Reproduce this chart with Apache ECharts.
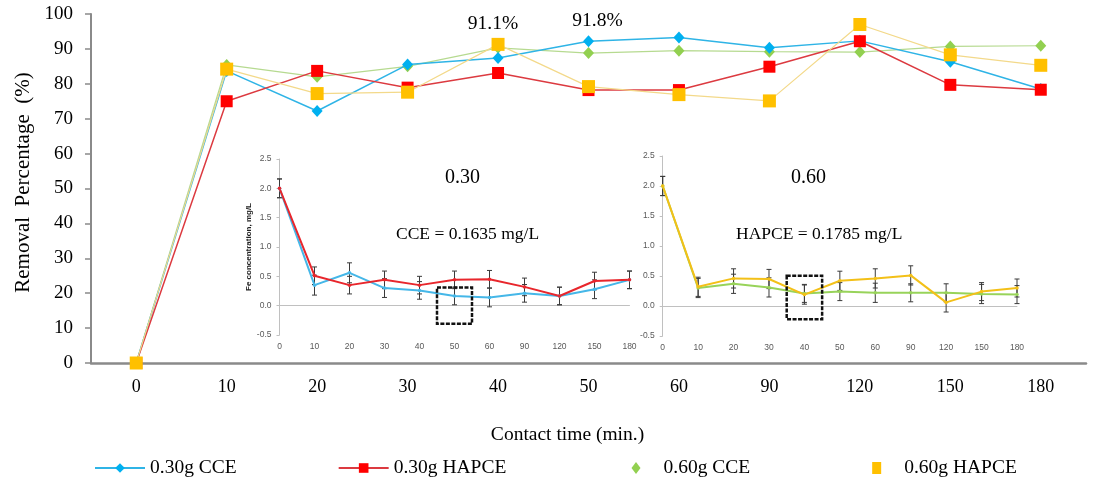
<!DOCTYPE html>
<html>
<head>
<meta charset="utf-8">
<script src="https://cdn.jsdelivr.net/npm/echarts@6/dist/echarts.min.js"></script>
<style>
  html, body { margin: 0; padding: 0; background: #fff; }
  #chart { width: 1098px; height: 485px; }
</style>
</head>
<body>
<div id="chart"></div>
<script>
// contact time categories (min.)
const times = ['0', '10', '20', '30', '40', '50', '60', '90', '120', '150', '180'];

// removal percentage, main chart
const cce030 = [0, 83.7, 72.2, 85.5, 87.4, 92.2, 93.3, 90.3, 92.3, 86.3, 78.5];
const hapce030 = [0, 75.0, 83.7, 78.9, 83.1, 78.2, 78.2, 84.9, 92.2, 79.7, 78.3];
const cce060 = [0, 85.4, 82.0, 85.0, 90.3, 88.8, 89.5, 89.2, 89.1, 90.7, 90.9];
const hapce060 = [0, 84.2, 77.2, 77.6, 91.3, 79.2, 76.9, 75.1, 97.0, 88.3, 85.3];

// Fe concentration (mg/L), insets
const fe030cce = [2.0, 0.35, 0.56, 0.30, 0.26, 0.165, 0.14, 0.21, 0.165, 0.28, 0.44];
const fe030hapce = [2.0, 0.51, 0.35, 0.44, 0.35, 0.44, 0.45, 0.32, 0.165, 0.42, 0.44];
const fe060cce = [2.0, 0.30, 0.37, 0.31, 0.21, 0.24, 0.22, 0.22, 0.22, 0.20, 0.19];
const fe060hapce = [2.0, 0.32, 0.46, 0.45, 0.19, 0.42, 0.46, 0.51, 0.06, 0.24, 0.30];
const err030cce = [0.16, 0.17, 0.17, 0.16, 0.15, 0.15, 0.16, 0.15, 0.15, 0.16, 0.15];
const err030hapce = [0.16, 0.15, 0.15, 0.15, 0.15, 0.15, 0.15, 0.15, 0.15, 0.15, 0.15];
const err060cce = [0.16, 0.16, 0.16, 0.16, 0.15, 0.15, 0.16, 0.15, 0.15, 0.16, 0.15];
const err060hapce = [0.16, 0.16, 0.16, 0.16, 0.16, 0.16, 0.16, 0.16, 0.16, 0.15, 0.15];

// highlighted boxes in insets: [category index, low, high]
const box030 = [[5, -0.31, 0.31]];
const box060 = [[4, -0.22, 0.505]];

const yTicks = [0, 100, 10];
const feTicks = [-0.5, 2.5, 0.5];

const serif = 'Liberation Serif';
const sans = 'Liberation Sans';

const chart = echarts.init(document.getElementById('chart'));

const withLabel = (arr, idx, text, dx) => arr.map((v, i) => i === idx ? {
  value: v,
  label: { show: true, position: 'top', distance: 4, offset: [dx, 0], formatter: text, color: '#000', fontFamily: serif, fontSize: 19.5 }
} : v);

const errData = (vals, errs) => vals.map((v, i) => [i, v - errs[i], v + errs[i]]);

const errSeries = (idx, vals, errs) => ({
  type: 'custom',
  xAxisIndex: idx, yAxisIndex: idx,
  z: 3,
  silent: true,
  data: errData(vals, errs),
  encode: { x: 0, y: [1, 2] },
  renderItem: (params, api) => {
    const i = api.value(0);
    const lo = api.coord([i, api.value(1)]);
    const hi = api.coord([i, api.value(2)]);
    const st = { stroke: '#3a3a3a', lineWidth: 1 };
    return {
      type: 'group',
      children: [
        { type: 'line', shape: { x1: lo[0], y1: lo[1], x2: hi[0], y2: hi[1] }, style: st },
        { type: 'line', shape: { x1: lo[0] - 2.5, y1: lo[1], x2: lo[0] + 2.5, y2: lo[1] }, style: st },
        { type: 'line', shape: { x1: hi[0] - 2.5, y1: hi[1], x2: hi[0] + 2.5, y2: hi[1] }, style: st }
      ]
    };
  }
});

const boxSeries = (idx, data) => ({
  type: 'custom',
  xAxisIndex: idx, yAxisIndex: idx,
  z: 6,
  silent: true,
  data: data,
  encode: { x: 0, y: [1, 2] },
  renderItem: (params, api) => {
    const i = api.value(0);
    const c = api.coord([i, api.value(1)]);
    const t = api.coord([i, api.value(2)]);
    const bw = api.coord([i + 1, 0])[0] - c[0];
    return {
      type: 'rect',
      shape: { x: c[0] - bw / 2, y: t[1], width: bw, height: c[1] - t[1] },
      style: { fill: 'none', stroke: '#111', lineWidth: 2.5, lineDash: [4, 1.5] }
    };
  }
});

const insetLine = (idx, name, vals, color) => ({
  name: name,
  type: 'line',
  xAxisIndex: idx, yAxisIndex: idx,
  data: vals,
  symbol: 'circle',
  symbolSize: 3.5,
  z: 4,
  lineStyle: { color: color, width: 2 },
  itemStyle: { color: color }
});

const insetX = (idx) => ({
  type: 'category', gridIndex: idx, data: times, boundaryGap: false,
  axisLine: { onZero: true, lineStyle: { color: '#c0c0c0', width: 1 } },
  axisTick: { show: false },
  axisLabel: { color: '#595959', fontFamily: sans, fontSize: 8.5, margin: 7 }
});

const insetY = (idx, name) => ({
  type: 'value', gridIndex: idx, min: feTicks[0], max: feTicks[1], interval: feTicks[2],
  name: name, nameLocation: 'middle', nameGap: 27,
  nameTextStyle: { color: '#222', fontFamily: sans, fontSize: 8, fontWeight: 'bold' },
  axisLine: { show: true, lineStyle: { color: '#c0c0c0', width: 1 } },
  axisTick: { show: true, length: 3, lineStyle: { color: '#c0c0c0' } },
  splitLine: { show: false },
  axisLabel: { color: '#595959', fontFamily: sans, fontSize: 8.5, margin: 8, formatter: v => v.toFixed(1) }
});

const option = {
  animation: false,
  backgroundColor: '#fff',
  grid: [
    { left: 91, right: 12, top: 14, bottom: 122 },
    { left: 279.5, width: 350, top: 159, height: 176 },
    { left: 662.7, width: 354.3, top: 156, height: 180 }
  ],
  xAxis: [
    {
      type: 'category', gridIndex: 0, data: times, boundaryGap: true,
      name: 'Contact time (min.)', nameLocation: 'middle', nameGap: 62,
      nameTextStyle: { color: '#000', fontFamily: serif, fontSize: 19.5, padding: [0, 42, 0, 0] },
      axisLine: { lineStyle: { color: '#8a8a8a', width: 2.5 } },
      axisTick: { show: false },
      axisLabel: { color: '#000', fontFamily: serif, fontSize: 18, margin: 15 }
    },
    insetX(1),
    insetX(2)
  ],
  yAxis: [
    {
      type: 'value', gridIndex: 0, min: yTicks[0], max: yTicks[1], interval: yTicks[2],
      name: 'Removal  Percentage  (%)', nameLocation: 'middle', nameGap: 57,
      nameTextStyle: { color: '#000', fontFamily: serif, fontSize: 21, padding: [0, 0, 0, 12] },
      axisLine: { show: true, lineStyle: { color: '#8a8a8a', width: 2 } },
      axisTick: { show: true, length: 6, lineStyle: { color: '#8a8a8a', width: 1.5 } },
      splitLine: { show: false },
      axisLabel: { color: '#000', fontFamily: serif, fontSize: 19, margin: 18 }
    },
    insetY(1, 'Fe concentration, mg/L'),
    insetY(2, '')
  ],
  legend: [
    {
      left: 94, top: 458, padding: 0, itemWidth: 50, itemHeight: 12, itemGap: 101,
      textStyle: { color: '#000', fontFamily: serif, fontSize: 19.5 },
      data: ['0.30g CCE', '0.30g HAPCE']
    },
    {
      left: 631.5, top: 458, padding: 0, itemWidth: 9, itemHeight: 12, itemGap: 122,
      textStyle: { color: '#000', fontFamily: serif, fontSize: 19.5, padding: [0, 0, 0, 18] },
      data: [{ name: '0.60g CCE', icon: 'diamond' }, { name: '0.60g HAPCE', icon: 'rect' }]
    }
  ],
  series: [
    {
      name: '0.30g CCE', type: 'line', data: withLabel(cce030, 5, '91.8%', 9),
      symbol: 'diamond', symbolSize: [11, 12], z: 5,
      lineStyle: { color: '#2fb4e6', width: 1.5 },
      itemStyle: { color: '#00b0f0' }
    },
    {
      name: '0.30g HAPCE', type: 'line', data: hapce030,
      symbol: 'rect', symbolSize: 12, z: 6,
      lineStyle: { color: '#dc3a40', width: 1.5 },
      itemStyle: { color: '#ff0000' }
    },
    {
      name: '0.60g CCE', type: 'line', data: cce060,
      symbol: 'diamond', symbolSize: [11, 12], z: 4,
      lineStyle: { color: '#b6da90', width: 1.2 },
      itemStyle: { color: '#92d050' }
    },
    {
      name: '0.60g HAPCE', type: 'line', data: withLabel(hapce060, 4, '91.1%', -5),
      symbol: 'rect', symbolSize: 13, z: 7,
      lineStyle: { color: '#f3d98a', width: 1.2 },
      itemStyle: { color: '#ffc000' }
    },
    errSeries(1, fe030cce, err030cce),
    errSeries(1, fe030hapce, err030hapce),
    insetLine(1, 'inset 0.30 CCE', fe030cce, '#45b7e8'),
    insetLine(1, 'inset 0.30 HAPCE', fe030hapce, '#e8262c'),
    errSeries(2, fe060cce, err060cce),
    errSeries(2, fe060hapce, err060hapce),
    insetLine(2, 'inset 0.60 CCE', fe060cce, '#98d35a'),
    insetLine(2, 'inset 0.60 HAPCE', fe060hapce, '#f3c018'),
    boxSeries(1, box030),
    boxSeries(2, box060)
  ],
  graphic: [
    { type: 'text', left: 445, top: 168, style: { text: '0.30', font: '20px "Liberation Serif"', fill: '#000' } },
    { type: 'text', left: 396, top: 225, style: { text: 'CCE = 0.1635 mg/L', font: '17.5px "Liberation Serif"', fill: '#000' } },
    { type: 'text', left: 791, top: 168, style: { text: '0.60', font: '20px "Liberation Serif"', fill: '#000' } },
    { type: 'text', left: 736, top: 225, style: { text: 'HAPCE = 0.1785 mg/L', font: '17.5px "Liberation Serif"', fill: '#000' } }
  ]
};

chart.setOption(option);
</script>
</body>
</html>
